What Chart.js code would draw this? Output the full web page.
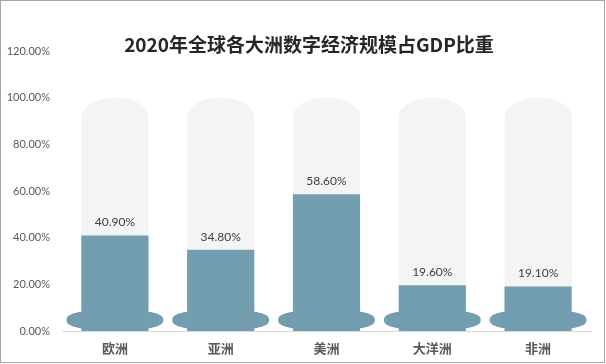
<!DOCTYPE html>
<html>
<head>
<meta charset="utf-8">
<script src="https://cdn.jsdelivr.net/npm/chart.js@4/dist/chart.umd.min.js"></script>
<style>
  html, body { margin: 0; padding: 0; background: #fff; }
  #wrap { width: 606px; height: 364px; position: relative; }
  canvas { display: block; }
</style>
</head>
<body>
<div id="wrap"><canvas id="c" width="606" height="364"></canvas></div>
<script>
const categories = ['欧洲', '亚洲', '美洲', '大洋洲', '非洲'];
const shareValues = [40.9, 34.8, 58.6, 19.6, 19.1];
const backgroundValues = [100, 100, 100, 100, 100];
const yTicks = [0, 20, 40, 60, 80, 100, 120];
const chartTitle = '2020年全球各大洲数字经济规模占GDP比重';

const BLUE = '#739eb0';
const GREY = '#f4f4f4';

function superEllipse(ctx, cx, cy, rx, ry, n) {
  ctx.beginPath();
  const steps = 120;
  for (let k = 0; k <= steps; k++) {
    const t = (k / steps) * 2 * Math.PI;
    const c = Math.cos(t), s = Math.sin(t);
    const px = cx + rx * Math.sign(c) * Math.pow(Math.abs(c), 2 / n);
    const py = cy + ry * Math.sign(s) * Math.pow(Math.abs(s), 2 / n);
    if (k === 0) ctx.moveTo(px, py); else ctx.lineTo(px, py);
  }
  ctx.closePath();
}

const tubePlugin = {
  id: 'tubes',
  beforeDatasetsDraw(chart) {
    const ctx = chart.ctx;
    const meta = chart.getDatasetMeta(1);
    ctx.save();
    ctx.fillStyle = GREY;
    meta.data.forEach(el => {
      const p = el.getProps(['x', 'y', 'base', 'width'], true);
      const l = p.x - p.width / 2, r = p.x + p.width / 2, ry = 19;
      ctx.beginPath();
      ctx.moveTo(l, p.base);
      ctx.lineTo(l, p.y + ry);
      ctx.ellipse(p.x, p.y + ry, p.width / 2, ry, 0, Math.PI, 2 * Math.PI);
      ctx.lineTo(r, p.base);
      ctx.closePath();
      ctx.fill();
    });
    ctx.restore();
  },
  afterDatasetsDraw(chart) {
    const ctx = chart.ctx;
    const meta = chart.getDatasetMeta(0);
    ctx.save();
    meta.data.forEach((el, i) => {
      const p = el.getProps(['x', 'y', 'base', 'width'], true);
      ctx.fillStyle = BLUE;
      superEllipse(ctx, p.x, p.base - 11, p.width * 0.72, 10, 2.6);
      ctx.fill();
      ctx.fillStyle = '#404040';
      ctx.font = '12px Lato, "Noto Sans CJK SC", sans-serif';
      ctx.textAlign = 'center';
      ctx.textBaseline = 'middle';
      ctx.fillText(shareValues[i].toFixed(2) + '%', p.x, p.y - 13);
    });
    ctx.restore();
  },
  afterDraw(chart) {
    const ctx = chart.ctx;
    ctx.save();
    ctx.fillStyle = '#262626';
    ctx.font = 'bold 19px "Noto Sans CJK SC", sans-serif';
    ctx.textAlign = 'center';
    ctx.textBaseline = 'middle';
    ctx.fillText(chartTitle, 309, 45);
    ctx.strokeStyle = '#a6a6a6';
    ctx.lineWidth = 1;
    ctx.strokeRect(0.5, 0.5, 604, 362);
    ctx.restore();
  }
};

new Chart(document.getElementById('c'), {
  type: 'bar',
  data: {
    labels: categories,
    datasets: [
      { data: shareValues, backgroundColor: BLUE, grouped: false, order: 1,
        categoryPercentage: 1, barPercentage: 0.635 },
      { data: backgroundValues, backgroundColor: 'rgba(0,0,0,0)', grouped: false, order: 2,
        categoryPercentage: 1, barPercentage: 0.635 }
    ]
  },
  options: {
    responsive: false,
    animation: false,
    layout: { padding: { top: 51, right: 15, left: 0, bottom: 0 } },
    plugins: { legend: { display: false }, tooltip: { enabled: false }, title: { display: false } },
    scales: {
      x: {
        grid: { display: false, drawTicks: false },
        border: { display: true, color: '#d9d9d9', width: 1 },
        ticks: { color: '#595959', padding: 9,
          font: { family: '"Noto Sans CJK SC", sans-serif', size: 13, weight: 'bold' } },
        afterFit(s) { s.height = 33; }
      },
      y: {
        min: 0, max: 120,
        grid: { display: false, drawTicks: false },
        border: { display: false },
        afterBuildTicks(s) { s.ticks = yTicks.map(v => ({ value: v })); },
        ticks: { color: '#595959', padding: 12,
          font: { family: 'Lato, sans-serif', size: 11 },
          callback: v => v.toFixed(2) + '%' },
        afterFit(s) { s.width = 62; }
      }
    }
  },
  plugins: [tubePlugin]
});
</script>
</body>
</html>
